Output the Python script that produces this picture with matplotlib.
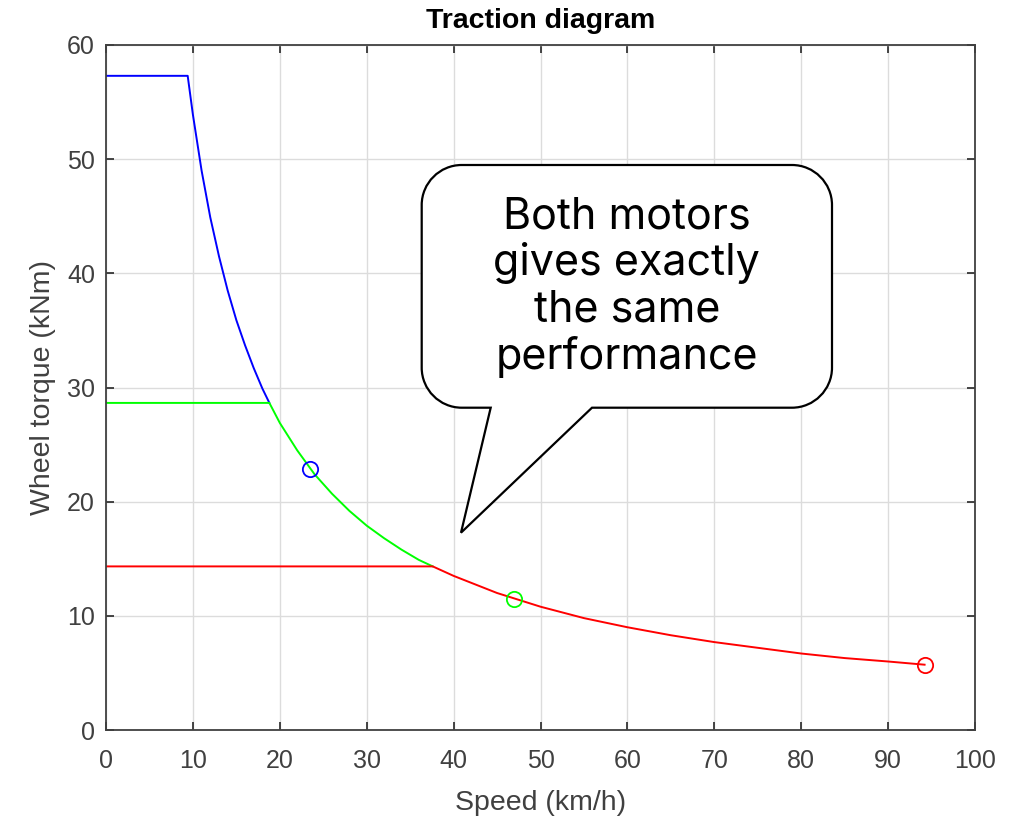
import matplotlib
matplotlib.use("Agg")
import matplotlib.pyplot as plt
from matplotlib.path import Path
from matplotlib.patches import PathPatch
from matplotlib.transforms import Affine2D

# valeurs
v_bleu = [0, 9.4, 10, 11, 12, 13, 14, 15, 16, 17, 18, 18.8]
c_bleu = [57.3, 57.3, 53.9, 49.0, 44.9, 41.5, 38.5, 35.9, 33.7, 31.7, 29.9, 28.65]
v_vert = [0, 18.8, 20, 22, 24, 26, 28, 30, 32, 34, 36, 37.6]
c_vert = [28.65, 28.65, 26.9, 24.5, 22.4, 20.7, 19.2, 17.9, 16.8, 15.8, 14.9, 14.33]
v_rouge = [0, 37.6, 40, 45, 50, 55, 60, 65, 70, 75, 80, 85, 90, 94.2]
c_rouge = [14.33, 14.33, 13.5, 12.0, 10.8, 9.8, 9.0, 8.3, 7.7, 7.2, 6.7, 6.3, 6.0, 5.72]

# points nominaux (cercles)
pts_v = [23.5, 47.0, 94.2]
pts_c = [22.9, 11.46, 5.72]
couleurs = ["#0000ff", "#00ff00", "#ff0000"]

texte_bulle = "Both motors\ngives exactly\nthe same\nperformance"

plt.rcParams['font.family'] = ['Liberation Sans', 'DejaVu Sans']

fig = plt.figure(figsize=(10.18, 8.16), dpi=100)
ax = fig.add_axes([106/1018, 1 - 730/816, (975-106)/1018, (730-45)/816])

ax.plot(v_bleu, c_bleu, color=couleurs[0], lw=1.4)
ax.plot(v_vert, c_vert, color=couleurs[1], lw=1.4)
ax.plot(v_rouge, c_rouge, color=couleurs[2], lw=1.4)
for x, y, c in zip(pts_v, pts_c, couleurs):
    ax.plot(x, y, 'o', mfc='none', mec=c, ms=11, mew=1.3)

ax.set_xlim(0, 100)
ax.set_ylim(0, 60)
ax.set_xticks(range(0, 101, 10))
ax.set_yticks(range(0, 61, 10))
ax.grid(True, color='#dcdcdc', lw=1.0)
ax.set_axisbelow(True)
ax.tick_params(direction='in', top=True, right=True, length=6, width=1.2,
               labelsize=18, colors='#262626', labelcolor='#404040', pad=8)
ax.tick_params(axis='x', pad=14)
for s in ax.spines.values():
    s.set_color('#404040')
    s.set_linewidth(1.3)

ax.set_xlabel("Speed (km/h)", fontsize=20.5, color='#404040', labelpad=12)
ax.set_ylabel("Wheel torque (kNm)", fontsize=20.5, color='#404040', labelpad=8)
ax.set_title("Traction diagram", fontsize=20.5, fontweight='bold', pad=12)

# bulle, en pixels (origine en haut a gauche)
L, R, T, B, r = 421.7, 832.0, 165.0, 407.7, 40.0
k = 0.55 * r
verts = [(L + r, T), (R - r, T),
         (R - r + k, T), (R, T + r - k), (R, T + r),
         (R, B - r),
         (R, B - r + k), (R - r + k, B), (R - r, B),
         (592.0, B), (461.0, 532.7), (490.7, B),
         (L + r, B),
         (L + r - k, B), (L, B - r + k), (L, B - r),
         (L, T + r),
         (L, T + r - k), (L + r - k, T), (L + r, T),
         (L + r, T)]
codes = ([Path.MOVETO, Path.LINETO]
         + [Path.CURVE4] * 3 + [Path.LINETO]
         + [Path.CURVE4] * 3
         + [Path.LINETO] * 4
         + [Path.CURVE4] * 3 + [Path.LINETO]
         + [Path.CURVE4] * 3 + [Path.CLOSEPOLY])
tr = Affine2D().scale(1/1018, -1/816).translate(0, 1) + fig.transFigure
bulle = PathPatch(Path(verts, codes), facecolor='white', edgecolor='black',
                  lw=1.6, transform=tr, zorder=5)
fig.add_artist(bulle)
fig.text((L + R) / 2 / 1018, 1 - 287 / 816, texte_bulle, ha='center', va='center',
         fontsize=31, family=['Inter', 'DejaVu Sans'], linespacing=1.16,
         color='black', zorder=6)

fig.savefig("out.png", dpi=100)
